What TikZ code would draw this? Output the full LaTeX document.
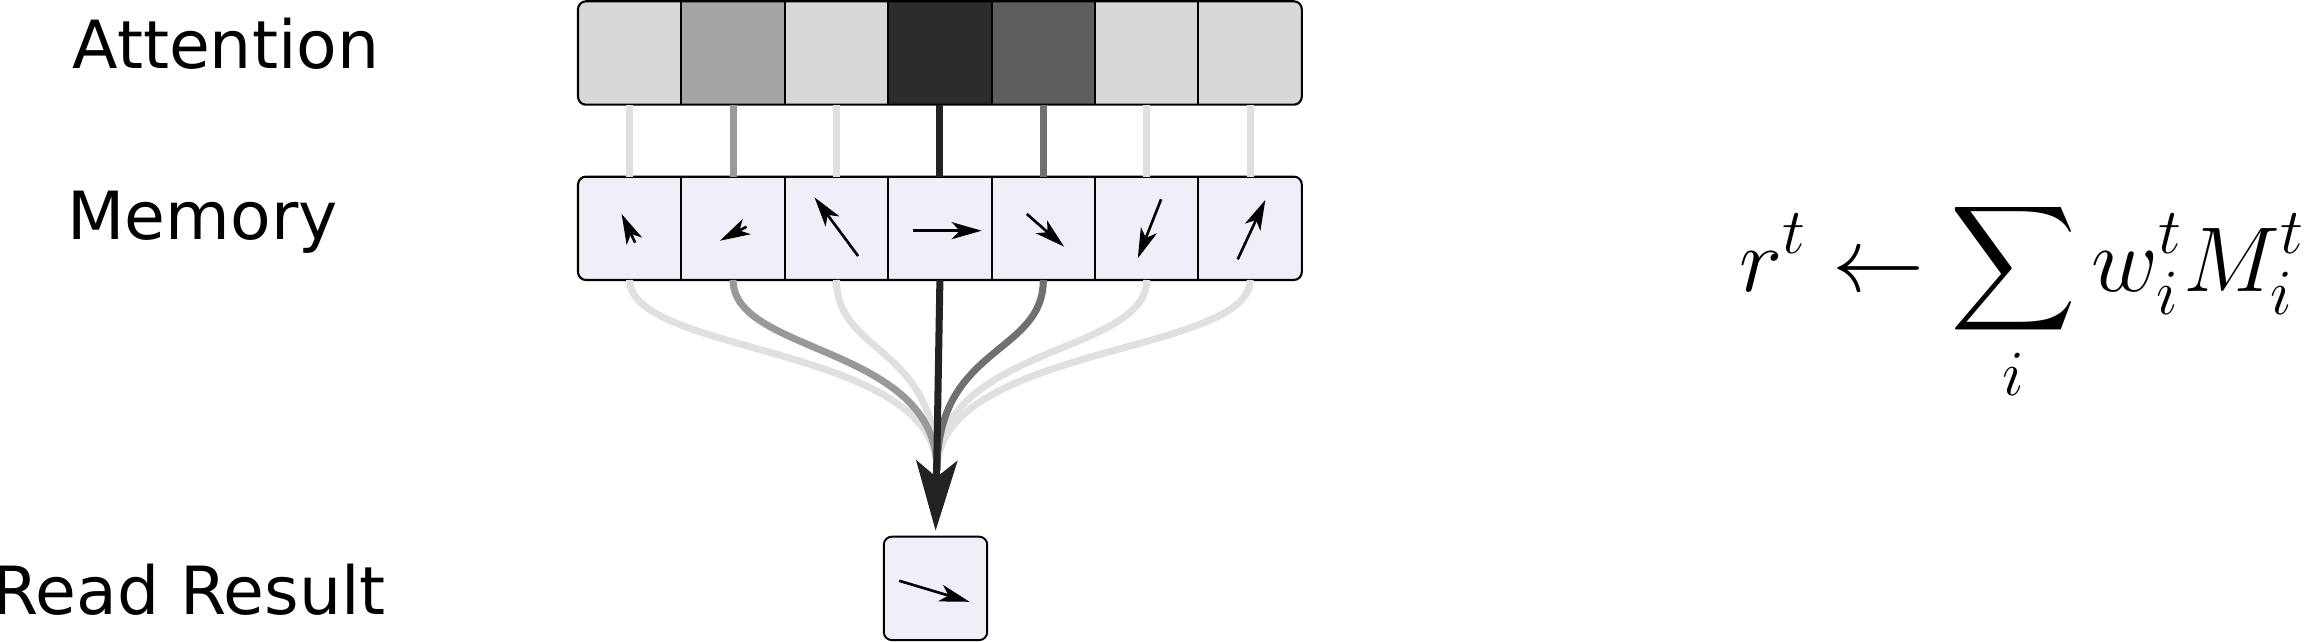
\RequirePackage{fix-cm}
\documentclass[tikz,border=0pt]{standalone}
\usepackage{exscale}
\usepackage{fontspec}
\usetikzlibrary{positioning,arrows.meta}
\newfontfamily\labelfont{DejaVu Sans}
\definecolor{CellLight}{HTML}{D8D8D8}
\definecolor{CellMid}{HTML}{A5A5A5}
\definecolor{CellDeep}{HTML}{5E5E5E}
\definecolor{CellDark}{HTML}{2C2C2C}
\definecolor{Lavender}{HTML}{F0EFF8}
\definecolor{WireLight}{HTML}{E0E0E0}
\definecolor{WireMid}{HTML}{999999}
\definecolor{WireDeep}{HTML}{707070}
\definecolor{WireDark}{HTML}{222222}

\begin{document}
\begin{tikzpicture}[
    cell/.style={draw,line width=0.55pt,minimum width=1.034cm,minimum height=1.034cm,inner sep=0pt,outer sep=0pt},
    frame/.style={draw,line width=0.6pt,rounded corners=0.08cm},
    tag/.style={font=\labelfont\fontsize{18.9}{22}\selectfont,anchor=base west,inner sep=0pt},
    wire/.style={line width=2pt},
    vec/.style={line width=0.75pt,-{Stealth[length=0.30cm,width=0.17cm,inset=0.08cm]}},
    >={Stealth[length=0.70cm,width=0.41cm,inset=0.165cm]}]
    \useasboundingbox (0,0) rectangle (23.07,-6.42);

    % row labels
    \node[tag] (attention) at (0.72,-0.688) {Attention};
    \node[tag] (memory) at (0.668,-2.396) {Memory};
    \node[tag] (result) at (-0.083,-6.143) {Read Result};

    % attention weights
    \begin{scope}
      \clip[rounded corners=0.08cm] (5.78,-0.013) rectangle (13.018,-1.047);
      \node[cell,fill=CellLight] (att1) at (6.297,-0.53) {};
      \node[cell,fill=CellMid,right=0pt of att1] (att2) {};
      \node[cell,fill=CellLight,right=0pt of att2] (att3) {};
      \node[cell,fill=CellDark,right=0pt of att3] (att4) {};
      \node[cell,fill=CellDeep,right=0pt of att4] (att5) {};
      \node[cell,fill=CellLight,right=0pt of att5] (att6) {};
      \node[cell,fill=CellLight,right=0pt of att6] (att7) {};
    \end{scope}
    \draw[frame] (att1.north west) rectangle (att7.south east);

    % memory slots
    \begin{scope}
      \clip[rounded corners=0.08cm] (5.78,-1.766) rectangle (13.018,-2.80);
      \node[cell,fill=Lavender,below=0.719cm of att1] (mem1) {};
      \node[cell,fill=Lavender,right=0pt of mem1] (mem2) {};
      \node[cell,fill=Lavender,right=0pt of mem2] (mem3) {};
      \node[cell,fill=Lavender,right=0pt of mem3] (mem4) {};
      \node[cell,fill=Lavender,right=0pt of mem4] (mem5) {};
      \node[cell,fill=Lavender,right=0pt of mem5] (mem6) {};
      \node[cell,fill=Lavender,right=0pt of mem6] (mem7) {};
    \end{scope}
    \draw[frame] (mem1.north west) rectangle (mem7.south east);

    \node[cell,fill=Lavender,rounded corners=0.08cm,below=2.567cm of mem4,xshift=-0.044cm] (read) {};

    % vectors
    \draw[vec] ([shift={(0.054,-0.144)}]mem1.center) -- ([shift={(-0.081,0.143)}]mem1.center);
    \draw[vec] ([shift={(0.135,0.016)}]mem2.center) -- ([shift={(-0.131,-0.124)}]mem2.center);
    \draw[vec] ([shift={(0.216,-0.277)}]mem3.center) -- ([shift={(-0.22,0.31)}]mem3.center);
    \draw[vec] ([shift={(-0.27,-0.024)}]mem4.center) -- ([shift={(0.418,-0.024)}]mem4.center);
    \draw[vec] ([shift={(-0.165,0.143)}]mem5.center) -- ([shift={(0.208,-0.184)}]mem5.center);
    \draw[vec] ([shift={(0.144,0.29)}]mem6.center) -- ([shift={(-0.089,-0.30)}]mem6.center);
    \draw[vec] ([shift={(-0.124,-0.31)}]mem7.center) -- ([shift={(0.152,0.283)}]mem7.center);
    \draw[vec] ([shift={(-0.363,0.076)}]read.center) -- ([shift={(0.34,-0.134)}]read.center);

    % weighted wires
    \draw[wire,WireLight] (att1) -- (mem1);
    \draw[wire,WireMid] (att2) -- (mem2);
    \draw[wire,WireLight] (att3) -- (mem3);
    \draw[wire,WireDark] (att4) -- (mem4);
    \draw[wire,WireDeep] (att5) -- (mem5);
    \draw[wire,WireLight] (att6) -- (mem6);
    \draw[wire,WireLight] (att7) -- (mem7);

    \coordinate (join) at (9.37,-4.70);
    \draw[wire,WireLight] (mem1.south) .. controls +(0,-0.75) and +(0,1.25) .. (join);
    \draw[wire,WireLight] (mem3.south) .. controls +(0,-0.75) and +(0,1.25) .. (join);
    \draw[wire,WireLight] (mem6.south) .. controls +(0,-0.75) and +(0,1.25) .. (join);
    \draw[wire,WireLight] (mem7.south) .. controls +(0,-0.75) and +(0,1.25) .. (join);
    \draw[wire,WireMid] (mem2.south) .. controls +(0,-0.75) and +(0,1.25) .. (join);
    \draw[wire,WireDeep] (mem5.south) .. controls +(0,-0.75) and +(0,1.25) .. (join);
    \draw[wire,WireDark,->,shorten >=0.06cm] (mem4.south) -- (read.north);

    \node[anchor=base west,inner sep=0pt,font=\fontsize{26.2}{31}\selectfont] (formula) at (17.385,-2.917) {$\displaystyle r^t \leftarrow \sum_i w_i^t M_i^t$};
\end{tikzpicture}
\end{document}
